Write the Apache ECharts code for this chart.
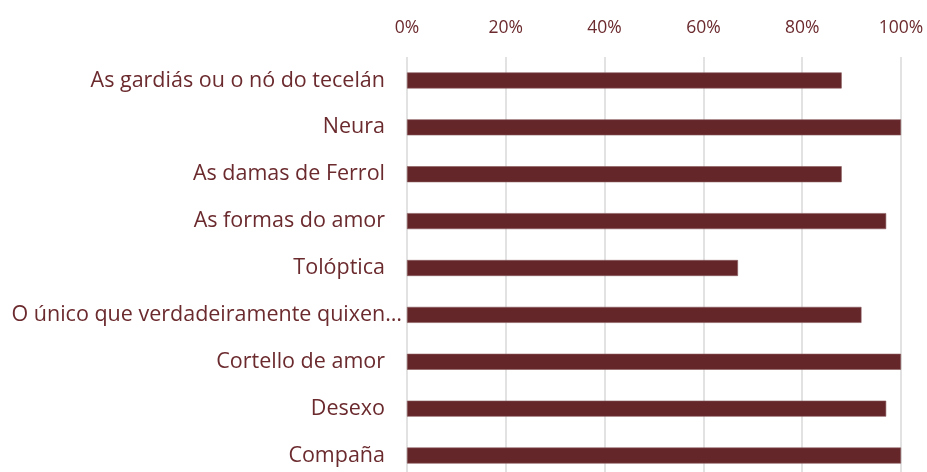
<!DOCTYPE html>
<html>
<head>
<meta charset="utf-8">
<script src="https://cdn.jsdelivr.net/npm/echarts@6/dist/echarts.min.js"></script>
<style>
  html, body { margin: 0; padding: 0; background: #fff; overflow: hidden; }
  #chart { width: 927px; height: 480px; }
</style>
</head>
<body>
<div id="chart"></div>
<script>
// categories from top to bottom
const categories = [
  'As gardiás ou o nó do tecelán',
  'Neura',
  'As damas de Ferrol',
  'As formas do amor',
  'Tolóptica',
  'O único que verdadeiramente quixen…',
  'Cortello de amor',
  'Desexo',
  'Compaña'
];
const values = [88, 100, 88, 97, 67, 92, 100, 97, 100];
const tickLabels = ['0%', '20%', '40%', '60%', '80%', '100%'];

const textColor = '#6B2A2E';
const chart = echarts.init(document.getElementById('chart'));
chart.setOption({
  animation: false,
  grid: { left: 407, right: 26, top: 57, bottom: 1, containLabel: false },
  xAxis: {
    type: 'value',
    position: 'top',
    min: 0,
    max: 100,
    interval: 20,
    axisLine: { show: false },
    axisTick: { show: false },
    axisLabel: {
      color: textColor,
      fontFamily: 'Open Sans',
      fontSize: 17.5,
      margin: 20,
      formatter: v => tickLabels[v / 20]
    },
    splitLine: { lineStyle: { color: '#D9D9D9', width: 1.5 } }
  },
  yAxis: {
    type: 'category',
    inverse: true,
    data: categories.map(c => c.endsWith('…')
      ? { value: c, textStyle: { padding: [0, -17, 0, 0] } }
      : c),
    axisLine: { show: false },
    axisTick: { show: false },
    axisLabel: {
      color: textColor,
      fontFamily: 'Open Sans',
      fontSize: 21.5,
      margin: 22
    }
  },
  series: [{
    type: 'bar',
    data: values,
    barWidth: 16,
    itemStyle: { color: '#65262A', borderColor: '#8A5A5D', borderWidth: 0.6 }
  }]
});
</script>
</body>
</html>
